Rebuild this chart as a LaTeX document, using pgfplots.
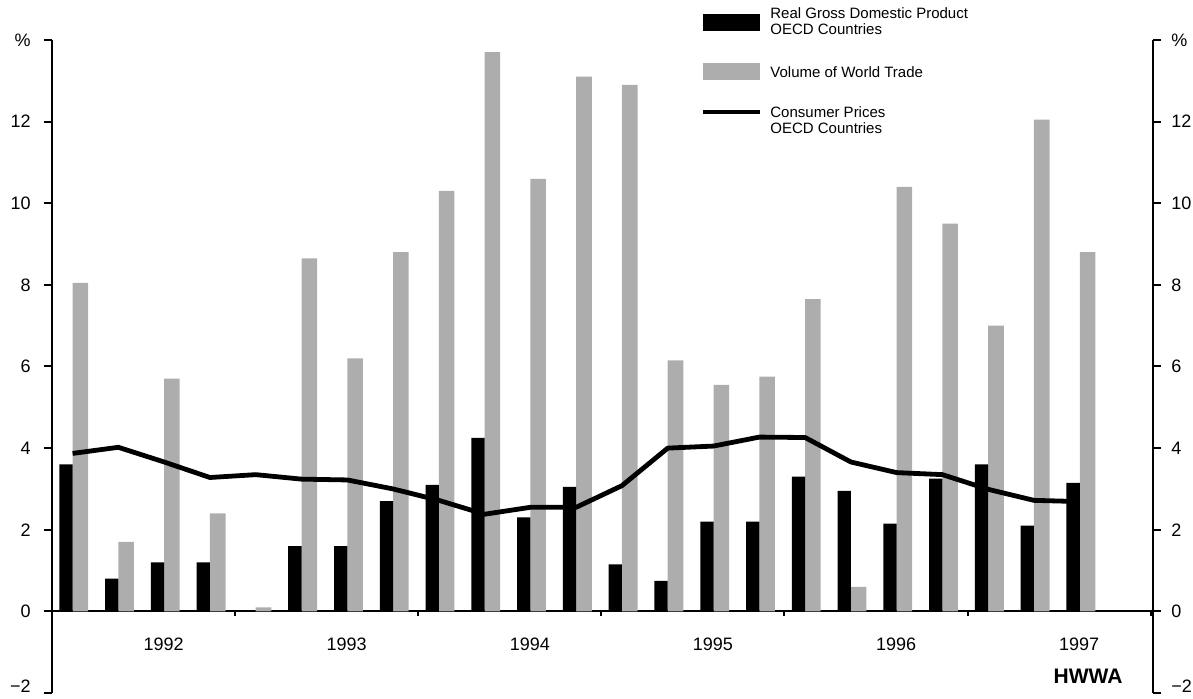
\documentclass[border=0pt]{standalone}
\usepackage{fontspec}
\setmainfont{Liberation Sans}
\usepackage{pgfplots}
\pgfplotsset{compat=1.18}
\usepackage{pgfplotstable}

% quarters 1992 Q1 ... 1997 Q3 at x = 0 ... 22
\pgfplotstableread{
idx gdp
0 3.6
1 0.8
2 1.2
3 1.2
5 1.6
6 1.6
7 2.7
8 3.1
9 4.25
10 2.3
11 3.05
12 1.15
13 0.75
14 2.2
15 2.2
16 3.3
17 2.95
18 2.15
19 3.25
20 3.6
21 2.1
22 3.15
}\gdptable

\pgfplotstableread{
idx trade cpi
0 8.05 3.87
1 1.7 4.02
2 5.7 3.66
3 2.4 3.28
4 0.1 3.35
5 8.65 3.24
6 6.2 3.22
7 8.8 3.0
8 10.3 2.72
9 13.7 2.38
10 10.6 2.55
11 13.1 2.55
12 12.9 3.08
13 6.15 4.0
14 5.55 4.05
15 5.75 4.27
16 7.65 4.26
17 0.6 3.66
18 10.4 3.4
19 9.5 3.35
20 7.0 2.99
21 12.05 2.72
22 8.8 2.69
}\tradetable

\definecolor{tradegray}{gray}{0.68}

\begin{document}
\fontsize{7.5}{8}\selectfont
\begin{tikzpicture}[x=1pt,y=1pt]
\pgfplotsset{
  common/.style={
    at={(0,0)}, anchor=south west,
    scale only axis, width=550.5pt, height=326.5pt,
    xmin=-0.45, xmax=23.6, ymin=-2, ymax=14,
    ytick={0,2,...,14},
    yticklabels={0,2,4,6,8,10,12,\%},
    extra y ticks={-2},
    extra y tick labels={−2},
    extra y tick style={yticklabel style={yshift=3.5pt}},
    tick align=outside,
    major tick length=4pt,
    axis line style={line width=1.1pt},
    tick style={line width=1pt, black},
    ticklabel style={font=\fontsize{9}{10}\selectfont},
  },
}
\begin{axis}[
  common,
  axis x line*=middle,
  axis y line=none,
  major tick length=2.5pt,
  xtick={-0.45,3.55,7.55,11.55,15.55,19.55,23.55},
  x tick label as interval,
  xticklabels={1992,1993,1994,1995,1996,1997},
  xticklabel style={xshift=10pt, yshift=-8pt},
]
\addplot[ybar, bar width=0.34, bar shift=0.17, fill=tradegray, draw=none]
  table[x=idx, y=trade] {\tradetable};
\addplot[ybar, bar width=0.29, bar shift=-0.145, fill=black, draw=none]
  table[x=idx, y=gdp] {\gdptable};
\addplot[black, line width=2.4pt, line join=round, mark=none]
  table[x=idx, y=cpi] {\tradetable};
\node[anchor=east, font=\fontsize{10.5}{12}\selectfont\bfseries]
  at (axis cs:23.05,-1.6) {HWWA};
\end{axis}
\begin{axis}[
  common,
  axis x line=none,
  axis y line*=left,
  yticklabel style={xshift=-4pt},
]
\addplot[draw=none] coordinates {(0,0)};
\end{axis}
\begin{axis}[
  common,
  axis x line=none,
  axis y line*=right,
  yticklabel style={xshift=2.5pt},
]
\addplot[draw=none] coordinates {(0,0)};
\end{axis}
% legend
\fill[black] (325.5,331) rectangle (354,339.5);
\node[anchor=west, align=left, inner sep=0pt] at (359,336)
  {Real Gross Domestic Product\\OECD Countries};
\fill[tradegray] (325.5,306.5) rectangle (354,315);
\node[anchor=west, inner sep=0pt] at (359,310.5) {Volume of World Trade};
\draw[line width=2.4pt] (325.5,290.5) -- (354,290.5);
\node[anchor=west, align=left, inner sep=0pt] at (359,286.5)
  {Consumer Prices\\OECD Countries};
\pgfresetboundingbox
\path[use as bounding box] (-26,-3) rectangle (570.5,346.5);
\end{tikzpicture}
\end{document}
